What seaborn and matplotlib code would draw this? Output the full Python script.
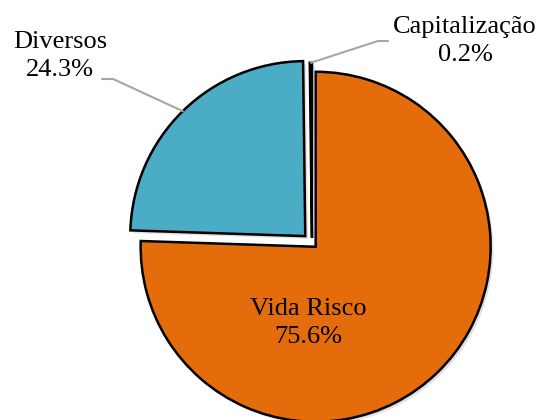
import numpy as np
import matplotlib
matplotlib.use('Agg')
import matplotlib.pyplot as plt
import matplotlib.patheffects as pe
import seaborn as sns

# Chart data
categories = ['Vida Risco', 'Diversos', 'Capitalização']
shares = [75.6, 24.3, 0.2]
pct_labels = ['75.6%', '24.3%', '0.2%']
colors = ['#E46C0A', '#4BACC6', '#262626']
explode = [0.03, 0.055, 0.03]

sns.set_theme(style='white')
plt.rcParams['font.family'] = ['Liberation Serif', 'DejaVu Serif']

fig = plt.figure(figsize=(5.47, 4.2), dpi=100)
ax = fig.add_axes([0, 0, 1, 1])

radius = 175
# pie's explode is in data units, so scale by the radius
wedges, _ = ax.pie(shares, colors=colors, explode=[e * radius for e in explode],
                   startangle=90, counterclock=False, center=(312, -243),
                   radius=radius, frame=True,
                   wedgeprops=dict(edgecolor='black', linewidth=1.8))

shadow = [pe.SimplePatchShadow(offset=(2, -2), shadow_rgbFace='#888888', alpha=0.25),
          pe.Normal()]
for w in wedges:
    w.set_path_effects(shadow)

ax.set_xlim(0, 547)
ax.set_ylim(-420, 0)
ax.axis('off')


def edge_point(w):
    mid = np.deg2rad((w.theta1 + w.theta2) / 2)
    cx, cy = w.center
    return cx + w.r * np.cos(mid), cy + w.r * np.sin(mid)


# Inside label for the big slice
ax.text(308, -323, f'{categories[0]}\n{pct_labels[0]}', ha='center', va='center',
        fontsize=19, color='black', linespacing=1.4)

# Outside labels with leader lines
label_pos = {1: (60, -56), 2: (465, -41)}
elbows = {1: [(113, -79), (102, -79)], 2: [(378, -41), (388, -41)]}
for i, (tx, ty) in label_pos.items():
    ax.text(tx, ty, f'{categories[i]}\n{pct_labels[i]}', ha='center', va='center',
            fontsize=19, color='black', linespacing=1.4)
    ex, ey = edge_point(wedges[i])
    xs = [ex] + [p[0] for p in elbows[i]]
    ys = [ey] + [p[1] for p in elbows[i]]
    ax.plot(xs, ys, color='#A6A6A6', lw=1.5)

fig.savefig('out.png', dpi=100)
